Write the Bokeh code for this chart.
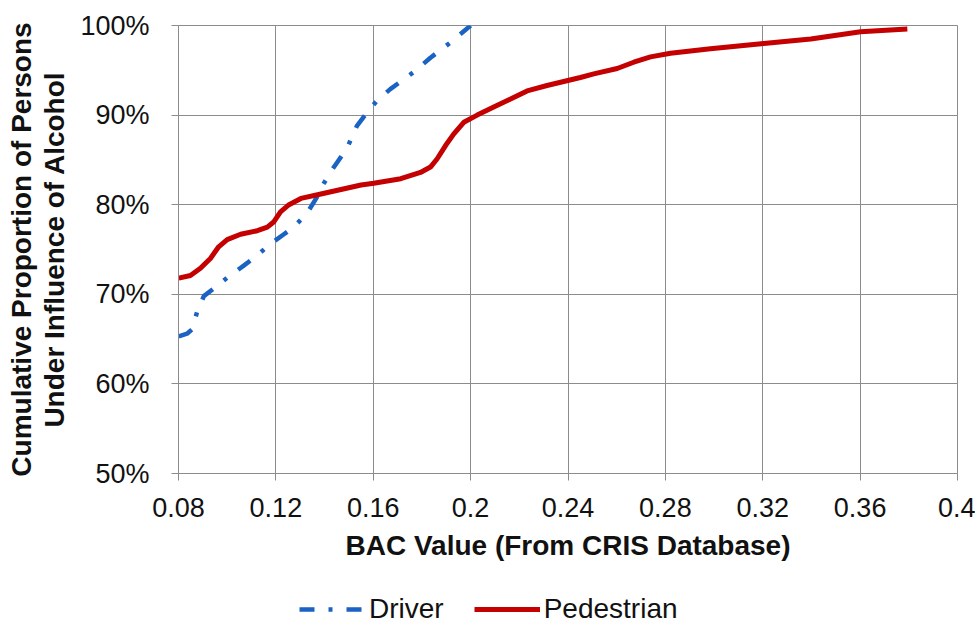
from bokeh.plotting import figure
from bokeh.layouts import column
from bokeh.models import FixedTicker, PrintfTickFormatter, Range1d, Legend, LegendItem
from bokeh.embed import file_html
from bokeh.resources import INLINE

# Data
driver_x = [0.0801, 0.0835, 0.0856, 0.0876, 0.0904, 0.0952, 0.1007, 0.1068, 0.1117, 0.1172,
            0.1233, 0.1274, 0.1329, 0.1370, 0.1393, 0.1431, 0.1492, 0.1533, 0.1581, 0.1615,
            0.1670, 0.1766, 0.1835, 0.1917, 0.2000]
driver_y = [65.3, 65.6, 66.1, 68.0, 69.8, 70.8, 72.0, 73.2, 74.2, 75.5,
            76.7, 77.5, 79.1, 80.9, 82.2, 83.9, 86.3, 88.8, 90.5, 91.6,
            92.9, 94.8, 96.4, 98.1, 100.0]

ped_x = [0.0801, 0.0849, 0.0890, 0.0931, 0.0965, 0.1000, 0.1055, 0.1124, 0.1165, 0.1192,
         0.1219, 0.1254, 0.1303, 0.1385, 0.1550, 0.1602, 0.1713, 0.1794, 0.1835, 0.1862,
         0.1897, 0.1931, 0.1972, 0.2027, 0.2095, 0.2164, 0.2232, 0.2314, 0.2451, 0.2506,
         0.2602, 0.2670, 0.2739, 0.2821, 0.2985, 0.3204, 0.3397, 0.3602, 0.3794]
ped_y = [71.8, 72.1, 72.9, 74.0, 75.3, 76.1, 76.7, 77.1, 77.5, 78.1,
         79.2, 80.0, 80.7, 81.2, 82.2, 82.4, 82.9, 83.6, 84.2, 85.1,
         86.6, 87.9, 89.2, 90.0, 90.9, 91.8, 92.7, 93.3, 94.2, 94.6,
         95.2, 95.9, 96.5, 96.9, 97.4, 98.0, 98.5, 99.3, 99.6]

x_ticks = [0.08, 0.12, 0.16, 0.2, 0.24, 0.28, 0.32, 0.36, 0.4]
x_tick_labels = ["0.08", "0.12", "0.16", "0.2", "0.24", "0.28", "0.32", "0.36", "0.4"]
y_ticks = [50, 60, 70, 80, 90, 100]
series_names = ["Driver", "Pedestrian"]

FONT = "Liberation Sans"
GRID = "#8c8c8c"
BLUE = "#1a62c4"
RED = "#c40000"
DRIVER_DASH = "15 14 4 14"

p = figure(width=975, height=590, output_backend="svg", toolbar_location=None,
           x_range=Range1d(0.08, 0.4), y_range=Range1d(50, 100),
           min_border_left=178, min_border_right=18, min_border_top=25, min_border_bottom=117)

p.outline_line_color = GRID
p.outline_line_width = 1

for ax in (p.xaxis[0], p.yaxis[0]):
    ax.axis_line_color = GRID
    ax.major_tick_line_color = GRID
    ax.minor_tick_line_color = None
    ax.major_tick_in = 0
    ax.major_tick_out = 7
    ax.major_label_text_font = FONT
    ax.major_label_text_font_size = "27px"
    ax.major_label_text_color = "#111111"
    ax.axis_label_text_font = FONT
    ax.axis_label_text_font_style = "bold"
    ax.axis_label_text_font_size = "28px"
    ax.axis_label_text_color = "#111111"

p.xaxis.ticker = FixedTicker(ticks=x_ticks)
p.xaxis.major_label_overrides = {t: l for t, l in zip(x_ticks, x_tick_labels)}
p.xaxis.major_label_standoff = 17
p.xaxis.axis_label = "BAC Value (From CRIS Database)"
p.xaxis.axis_label_standoff = 10

p.yaxis.ticker = FixedTicker(ticks=y_ticks)
p.yaxis.formatter = PrintfTickFormatter(format="%d%%")
p.yaxis.major_label_standoff = 22
p.yaxis.axis_label = "Cumulative Proportion of Persons\nUnder Influence of Alcohol"
p.yaxis.axis_label_standoff = 7
p.yaxis.axis_label_text_line_height = 1.08

p.xgrid.ticker = FixedTicker(ticks=x_ticks)
p.ygrid.ticker = FixedTicker(ticks=y_ticks)
p.grid.grid_line_color = GRID
p.grid.grid_line_width = 1

p.line(driver_x, driver_y, line_color=BLUE, line_width=4.5, line_dash=DRIVER_DASH)
p.line(ped_x, ped_y, line_color=RED, line_width=5)

# Legend strip below the chart (its ranges keep the series out of view; only the legend shows)
lg = figure(width=975, height=35, output_backend="svg", toolbar_location=None,
            x_range=Range1d(0, 0.01), y_range=Range1d(0, 1), x_axis_type=None, y_axis_type=None,
            min_border=0)
lg.outline_line_color = None
lg.grid.visible = False
l_driver = lg.line(driver_x, driver_y, line_color=BLUE, line_width=4.5, line_dash=DRIVER_DASH)
l_ped = lg.line(ped_x, ped_y, line_color=RED, line_width=5)
legend = Legend(items=[LegendItem(label=series_names[0], renderers=[l_driver]),
                       LegendItem(label=series_names[1], renderers=[l_ped])],
                orientation="horizontal", location=(121, 0),
                label_text_font=FONT, label_text_font_size="28px", label_text_color="#111111",
                glyph_width=66, glyph_height=20, label_standoff=4, spacing=30,
                border_line_alpha=0, background_fill_alpha=0, padding=0, margin=0)
lg.add_layout(legend, "center")

layout = column(p, lg, spacing=0)
open("out.html", "w").write(file_html(layout, INLINE))
